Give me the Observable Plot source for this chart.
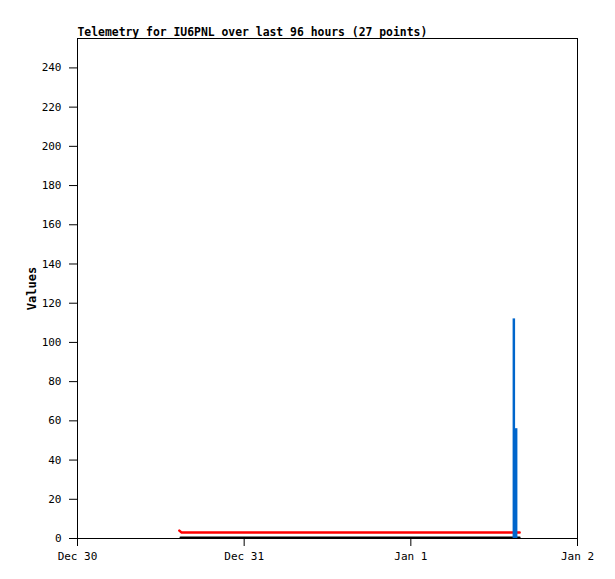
<!DOCTYPE html>
<html><head><meta charset="utf-8">
<script src="https://cdn.jsdelivr.net/npm/d3@7"></script>
<script src="https://cdn.jsdelivr.net/npm/@observablehq/plot@0.6"></script>
<style>body{margin:0;background:#fff}</style>
</head><body><div id="chart"></div>
<script>
const titleText = "Telemetry for IU6PNL over last 96 hours (27 points)";
const yLabel = "Values";
const xTicks = ["2023-12-30T00:00Z","2023-12-31T00:00Z","2024-01-01T00:00Z","2024-01-02T00:00Z"];
const xTickLabels = ["Dec 30","Dec 31","Jan 1","Jan 2"];
const yTicks = [0,20,40,60,80,100,120,140,160,180,200,220,240];
// red series
const redTimes = ["2023-12-30T14:40Z","2023-12-30T15:00Z","2024-01-01T15:40Z"];
const redValues = [4,3,3];
// black series
const blackTimes = ["2023-12-30T14:50Z","2024-01-01T15:40Z"];
const blackValues = [0.5,0.5];
// blue impulses
const blueTimes = ["2024-01-01T14:50Z","2024-01-01T15:10Z"];
const blueValues = [112,56];

const red = redTimes.map((t,i)=>({t:new Date(t),v:redValues[i]}));
const black = blackTimes.map((t,i)=>({t:new Date(t),v:blackValues[i]}));
const blue = blueTimes.map((t,i)=>({t:new Date(t),v:blueValues[i]}));
const xt = xTicks.map(d=>new Date(d));

const font = "'DejaVu Sans Mono', 'Liberation Mono', monospace";
const chart = Plot.plot({
  width: 615, height: 579,
  marginLeft: 77, marginRight: 38, marginTop: 38, marginBottom: 41,
  style: {fontFamily: font, fontSize: "11px", background: "#fff", color: "#000"},
  x: {type: "utc", domain: [xt[0], xt[3]], ticks: xt, tickFormat: (d,i)=>xTickLabels[xt.findIndex(x=>+x===+d)], tickSize: 8, tickPadding: 6, label: null},
  y: {domain: [0,255], ticks: yTicks, tickSize: 8, tickPadding: 8, label: null},
  marks: [
    Plot.frame({stroke: "#000", strokeWidth: 1}),
    Plot.line(black, {x:"t", y:"v", stroke:"#000", strokeWidth:2}),
    Plot.line(red, {x:"t", y:"v", stroke:"#ff0000", strokeWidth:2.5}),
    Plot.ruleX(blue, {x:"t", y1:0, y2:"v", stroke:"#0066cc", strokeWidth:2.5}),
    Plot.text([titleText], {frameAnchor:"top-left", dy:-11, text:d=>d, fontWeight:"bold", fontSize:11.4, textAnchor:"start"}),
    Plot.text([yLabel], {frameAnchor:"left", dx:-45, rotate:-90, text:d=>d, fontWeight:"bold", fontSize:12, textAnchor:"middle"})
  ]
});
document.getElementById("chart").append(chart);
</script></body></html>
